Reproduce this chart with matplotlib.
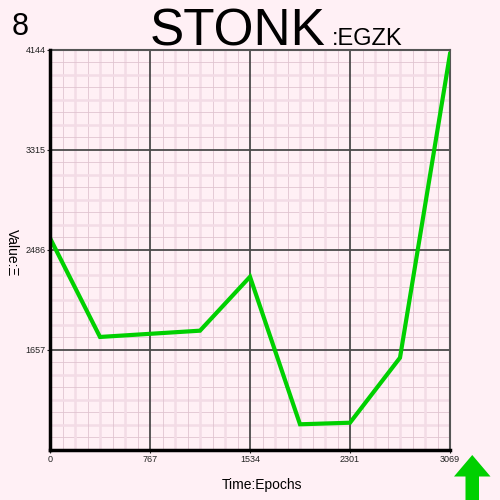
import matplotlib
matplotlib.use("Agg")
import matplotlib.pyplot as plt
import numpy as np
from matplotlib.patches import Polygon

epochs = [0, 383.6, 767.3, 1150.9, 1534.5, 1918.1, 2301.8, 2685.4, 3069]
values = [2581, 1761, 1787, 1813, 2260, 1037, 1050, 1589, 4107]
x_ticks = [0, 767, 1534, 2301, 3069]
y_ticks = [1657, 2486, 3315, 4144]
y_min, y_max = 828, 4144
x_min, x_max = 0, 3069

bg = "#fff0f5"
plt.rcParams['font.family'] = ['Liberation Sans', 'DejaVu Sans']

fig = plt.figure(figsize=(5, 5), dpi=100, facecolor=bg)
ax = fig.add_axes([0.1, 0.101, 0.8, 0.8], facecolor=bg)
ax.set_xlim(x_min, x_max)
ax.set_ylim(y_min, y_max)

# minor grid
for i in range(1, 32):
    xv = x_min + (x_max - x_min) * i / 32
    yv = y_min + (y_max - y_min) * i / 32
    if i % 8 == 0:
        continue
    if i % 2 == 0:
        ax.axvline(xv, color="#f3dce6", lw=1.8, zorder=1)
        ax.axhline(yv, color="#f3dce6", lw=1.8, zorder=1)
    else:
        ax.axvline(xv, color="#e0c4d0", lw=0.6, zorder=1)
        ax.axhline(yv, color="#e0c4d0", lw=0.6, zorder=1)
# major grid
for i in range(1, 4):
    xv = x_min + (x_max - x_min) * i / 4
    yv = y_min + (y_max - y_min) * i / 4
    ax.axvline(xv, color="#4a4a4a", lw=1.3, zorder=2)
    ax.axhline(yv, color="#4a4a4a", lw=1.3, zorder=2)

ax.plot(epochs, values, color="#00d000", lw=3, zorder=5, solid_joinstyle="miter")

ax.set_xticks(x_ticks)
ax.set_xticklabels([str(v) for v in x_ticks])
ax.set_yticks(y_ticks)
ax.set_yticklabels([str(v) for v in y_ticks])
ax.tick_params(axis='both', labelsize=6.5, length=2, width=0.8, colors="#222222", pad=2)
ax.tick_params(axis='y', pad=1)

for s in ['left', 'bottom']:
    ax.spines[s].set_color("black")
    ax.spines[s].set_linewidth(2.5)
for s in ['top', 'right']:
    ax.spines[s].set_color("#555555")
    ax.spines[s].set_linewidth(1.5)
ax.spines['left'].set_zorder(6)
ax.spines['bottom'].set_zorder(6)

fig.text(0.523, 0.03, "Time:Epochs", fontsize=10, ha="center", va="center")
fig.text(0.024, 0.494, "Value:Ξ", fontsize=10, ha="center", va="center", rotation=-90)

fig.text(0.476, 0.91, "STONK", fontsize=37, ha="center", va="baseline")
fig.text(0.664, 0.91, ":EGZK", fontsize=17, ha="left", va="baseline")
fig.text(0.024, 0.93, "8", fontsize=22, ha="left", va="baseline")

arrow = Polygon([(0.931, 0.0), (0.931, 0.047), (0.908, 0.047), (0.9445, 0.09),
                 (0.981, 0.047), (0.958, 0.047), (0.958, 0.0)],
                closed=True, transform=fig.transFigure, facecolor="#00d000",
                edgecolor="none")
fig.patches.append(arrow)

fig.savefig("out.png", dpi=100, facecolor=bg)
